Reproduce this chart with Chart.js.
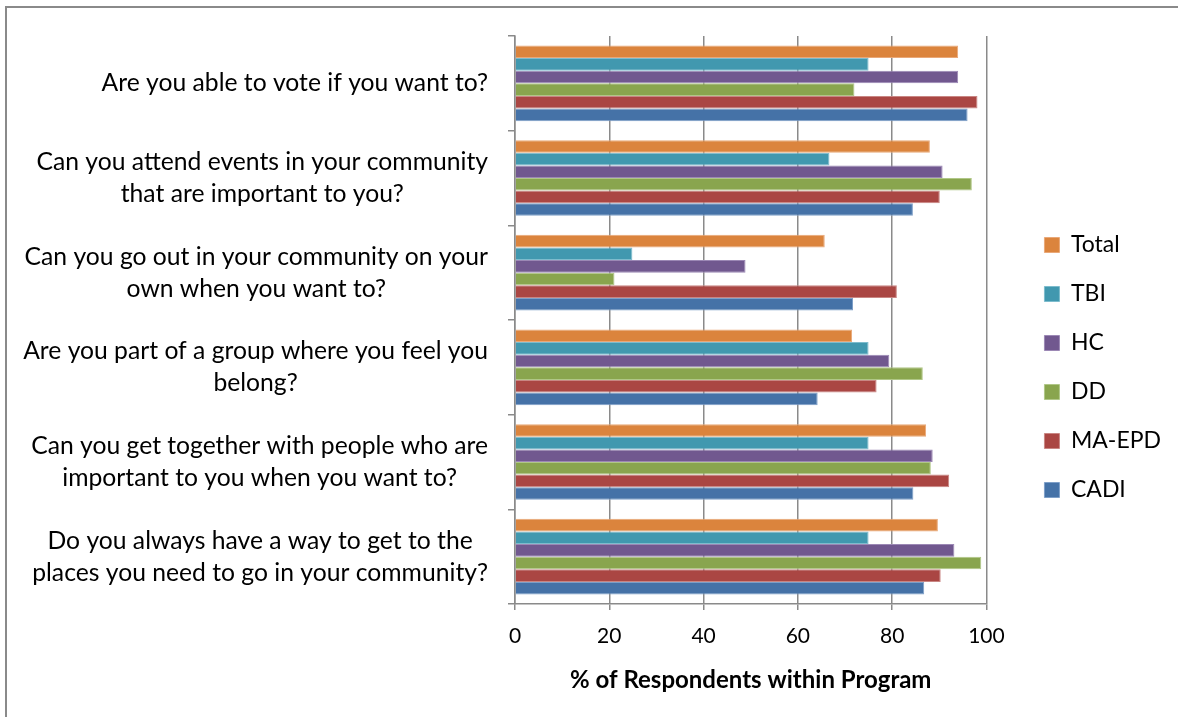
<!DOCTYPE html>
<html>
<head>
<meta charset="utf-8">
<title>Community participation by program</title>
<script src="https://cdn.jsdelivr.net/npm/chart.js@4.4.1/dist/chart.umd.min.js"></script>
<style>
  html, body { margin: 0; padding: 0; background: #fff; }
  #frame {
    position: absolute; left: 5px; top: 6px; width: 1200px; height: 730px;
    border-left: 2px solid #8a8a8a; border-top: 2px solid #8a8a8a;
  }
  #wrap { position: absolute; left: 0; top: 0; width: 1178px; height: 717px; }
</style>
</head>
<body>
<div id="frame"></div>
<div id="wrap"><canvas id="myChart" width="1178" height="717"></canvas></div>
<script>
// survey questions, one array of lines per question (top to bottom)
const questions = [
  ['Are you able to vote if you want to?'],
  ['Can you attend events in your community', 'that are important to you?'],
  ['Can you go out in your community on your', 'own when you want to?'],
  ['Are you part of a group where you feel you', 'belong?'],
  ['Can you get together with people who are', 'important to you when you want to?'],
  ['Do you always have a way to get to the', 'places you need to go in your community?']
];

const programs = ['Total', 'TBI', 'HC', 'DD', 'MA-EPD', 'CADI'];

// % of respondents answering yes, per program
const total = [94.0, 88.0, 65.7, 71.5, 87.2, 89.7];
const tbi   = [75.0, 66.7, 24.9, 75.0, 75.0, 75.0];
const hc    = [94.0, 90.7, 48.9, 79.4, 88.6, 93.2];
const dd    = [72.0, 96.9, 21.1, 86.5, 88.2, 98.9];
const maEpd = [98.1, 90.1, 81.0, 76.7, 92.1, 90.3];
const cadi  = [96.0, 84.4, 71.7, 64.2, 84.5, 86.8];

const xTicks = [0, 20, 40, 60, 80, 100];

const fills = ['#DB843D', '#4198AF', '#71588F', '#89A54E', '#AA4643', '#4572A7'];
const edges = ['#E9A878', '#7DBCCD', '#9C88B5', '#B0C787', '#C98683', '#7E9FC8'];

const labelFont = '24.7px Lato';
const labelRight = 488;
const lineGap = 32;

// draws the question text beside each band, lines centred within each block
const questionLabels = {
  id: 'questionLabels',
  afterDraw(chart) {
    const ctx = chart.ctx;
    const yScale = chart.scales.y;
    ctx.save();
    ctx.font = labelFont;
    ctx.fillStyle = '#000';
    ctx.textBaseline = 'middle';
    ctx.textAlign = 'center';
    questions.forEach((lines, i) => {
      const cy = yScale.getPixelForTick(i);
      const w = Math.max(...lines.map(l => ctx.measureText(l).width));
      const cx = labelRight - w / 2;
      lines.forEach((line, j) => {
        ctx.fillText(line, cx, cy + (j - (lines.length - 1) / 2) * lineGap);
      });
    });
    ctx.restore();
  }
};

const seriesValues = [total, tbi, hc, dd, maEpd, cadi];

const data = {
  labels: questions.map(q => q.join(' ')),
  datasets: programs.map((name, i) => ({
    label: name,
    data: seriesValues[i],
    backgroundColor: fills[i],
    borderColor: edges[i],
    borderWidth: 1,
    borderSkipped: 'start',
    categoryPercentage: 0.8,
    barPercentage: 1.0
  }))
};

const config = {
  type: 'bar',
  data: data,
  plugins: [questionLabels],
  options: {
    indexAxis: 'y',
    responsive: false,
    devicePixelRatio: 1,
    animation: false,
    layout: { padding: { top: 36, left: 0, right: 7, bottom: 18 } },
    plugins: {
      tooltip: { enabled: false },
      legend: {
        position: 'right',
        align: 'center',
        labels: {
          boxWidth: 15,
          boxHeight: 15,
          padding: 26,
          color: '#000',
          font: { family: 'Lato', size: 23 }
        }
      }
    },
    scales: {
      x: {
        min: 0,
        max: 100,
        afterBuildTicks(scale) {
          scale.ticks = xTicks.map(v => ({ value: v }));
        },
        grid: {
          color: '#8a8a8a',
          lineWidth: 1.5,
          tickLength: 6,
          drawTicks: true
        },
        border: { color: '#8a8a8a', width: 1.5 },
        ticks: {
          padding: 14,
          color: '#000',
          font: { family: 'Lato', size: 21 }
        },
        title: {
          display: true,
          text: '% of Respondents within Program',
          color: '#000',
          padding: { top: 3, bottom: 4 },
          font: { family: 'Lato', size: 24, weight: 'bold' }
        }
      },
      y: {
        grid: {
          drawOnChartArea: false,
          drawTicks: true,
          tickLength: 7,
          color: '#8a8a8a',
          lineWidth: 1.5
        },
        border: { color: '#8a8a8a', width: 1.5 },
        ticks: { display: false },
        afterFit(scale) { scale.width = 515; }
      },
      // empty axis that keeps space between the bars and the legend
      gap: {
        type: 'category',
        position: 'right',
        display: true,
        labels: [''],
        grid: { display: false },
        border: { display: false },
        ticks: { display: false },
        afterFit(scale) { scale.width = 32; }
      }
    }
  }
};

const myChart = new Chart(document.getElementById('myChart').getContext('2d'), config);
</script>
</body>
</html>
